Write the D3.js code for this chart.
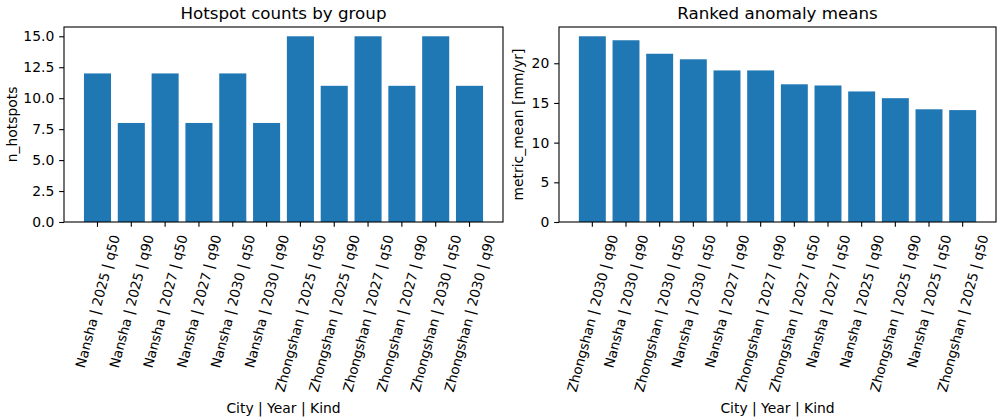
<!DOCTYPE html>
<html>
<head>
<meta charset="utf-8">
<script src="https://cdn.jsdelivr.net/npm/d3@7"></script>
<style>
  body { margin: 0; background: #fff; }
  svg { display: block; font-family: "DejaVu Sans", sans-serif; }
</style>
</head>
<body>
<div id="main"></div>
<script>
// left panel data
const groupLabels = [
  "Nansha | 2025 | q50", "Nansha | 2025 | q90", "Nansha | 2027 | q50", "Nansha | 2027 | q90",
  "Nansha | 2030 | q50", "Nansha | 2030 | q90", "Zhongshan | 2025 | q50", "Zhongshan | 2025 | q90",
  "Zhongshan | 2027 | q50", "Zhongshan | 2027 | q90", "Zhongshan | 2030 | q50", "Zhongshan | 2030 | q90"
];
const hotspotCounts = [12, 8, 12, 8, 12, 8, 15, 11, 15, 11, 15, 11];
const countTicks = [0, 2.5, 5, 7.5, 10, 12.5, 15];

// right panel data
const rankedLabels = [
  "Zhongshan | 2030 | q90", "Nansha | 2030 | q90", "Zhongshan | 2030 | q50", "Nansha | 2030 | q50",
  "Nansha | 2027 | q90", "Zhongshan | 2027 | q90", "Zhongshan | 2027 | q50", "Nansha | 2027 | q50",
  "Nansha | 2025 | q90", "Zhongshan | 2025 | q90", "Nansha | 2025 | q50", "Zhongshan | 2025 | q50"
];
const anomalyMeans = [23.4, 22.9, 21.2, 20.5, 19.1, 19.1, 17.35, 17.2, 16.45, 15.6, 14.2, 14.1];
const meanTicks = [0, 5, 10, 15, 20];

const W = 1000, H = 420;
const plotTop = 27, plotBottom = 222;
const barColor = "#1f77b4";
const fs = 13.9;
const rotFs = 13.5;

const svg = d3.select("#main").append("svg")
  .attr("width", W)
  .attr("height", H);

function panel(opts) {
  const { x0, x1, labels, values, ymax, ticks, fmt, title, ylabel, ylabelX } = opts;
  const g = svg.append("g");

  const x = d3.scaleBand()
    .domain(labels)
    .range([x0, x1])
    .paddingInner(0.2)
    .paddingOuter(0.59);
  const y = d3.scaleLinear().domain([0, ymax]).range([plotBottom, plotTop]);

  // bars
  g.selectAll("rect.bar")
    .data(values)
    .enter().append("rect")
    .attr("class", "bar")
    .attr("x", (d, i) => x(labels[i]))
    .attr("width", x.bandwidth())
    .attr("y", d => y(d))
    .attr("height", d => plotBottom - y(d))
    .attr("fill", barColor);

  // y axis
  const yAxis = g.append("g")
    .attr("transform", `translate(${x0},0)`)
    .call(d3.axisLeft(y).tickValues(ticks).tickFormat(fmt).tickSize(4.86).tickPadding(4.86));
  yAxis.select(".domain").remove();
  yAxis.selectAll("line").attr("stroke", "#000").attr("stroke-width", 1.1);
  yAxis.selectAll("text").attr("font-size", fs).attr("fill", "#000")
    .attr("font-family", "DejaVu Sans");

  // x axis ticks
  const xAxis = g.append("g")
    .attr("transform", `translate(0,${plotBottom})`)
    .call(d3.axisBottom(x).tickSize(4.86).tickFormat(""));
  xAxis.select(".domain").remove();
  xAxis.selectAll("line").attr("stroke", "#000").attr("stroke-width", 1.1);

  // rotated tick labels: bbox centered on tick, top below tick
  const theta = 75 * Math.PI / 180;
  const h = 13;
  const labelTop = plotBottom + 4.86 + 6.5;
  labels.forEach(lab => {
    const t = g.append("text")
      .attr("font-size", rotFs)
      .attr("text-anchor", "middle")
      .attr("dominant-baseline", "central")
      .text(lab);
    const w = t.node().getComputedTextLength();
    const bh = w * Math.sin(theta) + h * Math.cos(theta);
    const cx = x(lab) + x.bandwidth() / 2;
    const cy = labelTop + bh / 2;
    t.attr("transform", `translate(${cx},${cy}) rotate(-75)`);
  });

  // frame
  g.append("rect")
    .attr("x", x0).attr("y", plotTop)
    .attr("width", x1 - x0).attr("height", plotBottom - plotTop)
    .attr("fill", "none").attr("stroke", "#000").attr("stroke-width", 1.1);

  // titles
  g.append("text")
    .attr("x", (x0 + x1) / 2).attr("y", 19)
    .attr("text-anchor", "middle")
    .attr("font-size", 16.7)
    .text(title);
  g.append("text")
    .attr("x", (x0 + x1) / 2).attr("y", 413)
    .attr("text-anchor", "middle")
    .attr("font-size", fs)
    .text("City | Year | Kind");
  g.append("text")
    .attr("transform", `translate(${ylabelX},${(plotTop + plotBottom) / 2}) rotate(-90)`)
    .attr("text-anchor", "middle")
    .attr("dominant-baseline", "central")
    .attr("font-size", fs)
    .text(ylabel);
}

panel({
  x0: 64, x1: 503,
  labels: groupLabels, values: hotspotCounts,
  ymax: d3.max(hotspotCounts) * 1.05,
  ticks: countTicks, fmt: d3.format(".1f"),
  title: "Hotspot counts by group", ylabel: "n_hotspots", ylabelX: 12
});

panel({
  x0: 559, x1: 996,
  labels: rankedLabels, values: anomalyMeans,
  ymax: d3.max(anomalyMeans) * 1.05,
  ticks: meanTicks, fmt: d3.format("d"),
  title: "Ranked anomaly means", ylabel: "metric_mean [mm/yr]", ylabelX: 518
});
</script>
</body>
</html>
